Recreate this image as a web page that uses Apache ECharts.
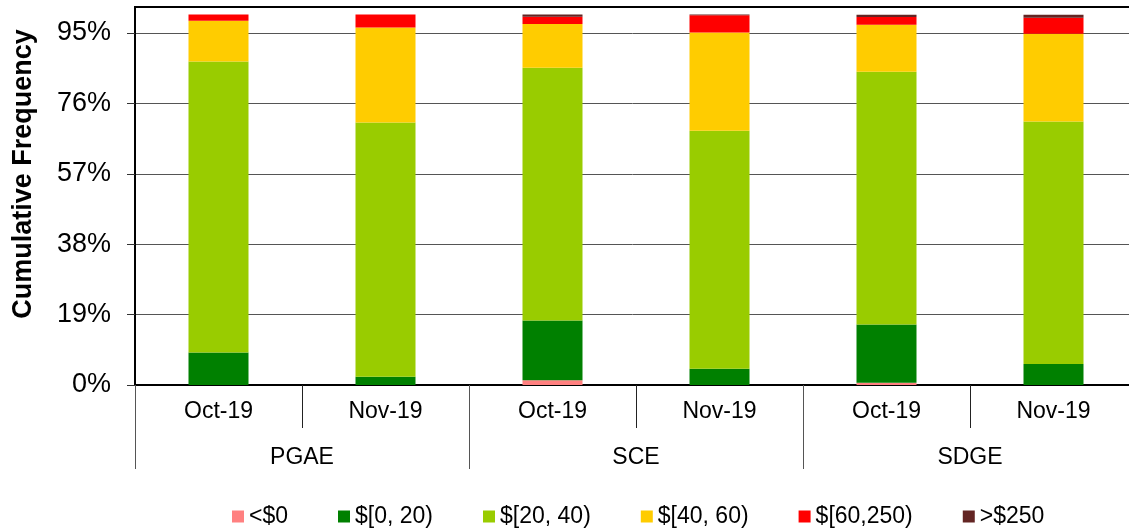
<!DOCTYPE html>
<html>
<head>
<meta charset="utf-8">
<script src="https://cdn.jsdelivr.net/npm/echarts@6/dist/echarts.min.js"></script>
<style>
html,body{margin:0;padding:0;background:#fff;}
#chart{width:1129px;height:531px;}
</style>
</head>
<body>
<div id="chart"></div>
<script>
var categories = ['Oct-19', 'Nov-19', 'Oct-19', 'Nov-19', 'Oct-19', 'Nov-19'];
var groups = ['PGAE', 'SCE', 'SDGE'];
var seriesNames = ['<$0', '$[0, 20)', '$[20, 40)', '$[40, 60)', '$[60,250)', '>$250'];
var seriesColors = ['#FF8080', '#008000', '#99CC00', '#FFCC00', '#FF0000', '#632523'];
var below0 = [0, 0, 1.3, 0, 0.6, 0];
var r0to20 = [8.8, 2.2, 16.1, 4.4, 15.7, 5.7];
var r20to40 = [78.5, 68.6, 68.2, 64.2, 68.2, 65.4];
var r40to60 = [11.0, 25.7, 11.8, 26.5, 12.7, 23.7];
var r60to250 = [1.7, 3.5, 2.0, 4.7, 2.1, 4.3];
var above250 = [0.0, 0.0, 0.6, 0.2, 0.6, 0.8];
var yTicks = [0, 19, 38, 57, 76, 95];

var seriesData = [below0, r0to20, r20to40, r40to60, r60to250, above250];
var FONT = "'Liberation Sans', Arial, sans-serif";

var chart = echarts.init(document.getElementById('chart'), null, {renderer: 'canvas'});
var series = seriesNames.map(function (name, i) {
  return {
    name: name,
    type: 'bar',
    stack: 'total',
    barWidth: 60,
    xAxisIndex: 0,
    itemStyle: {color: seriesColors[i]},
    emphasis: {disabled: true},
    data: seriesData[i]
  };
});

chart.setOption({
  animation: false,
  backgroundColor: '#ffffff',
  grid: {
    left: 135, top: 7, width: 1002, height: 378,
    outerBoundsMode: 'none',
    containLabel: false,
    show: true, borderColor: '#000', borderWidth: 2, backgroundColor: 'transparent'
  },
  legend: {
    data: seriesNames,
    left: 227, top: 500,
    icon: 'rect', itemWidth: 12, itemHeight: 12, itemGap: 50,
    textStyle: {fontFamily: FONT, fontSize: 23, color: '#000'}
  },
  xAxis: [{
    type: 'category',
    data: categories,
    position: 'bottom',
    axisLine: {show: true, lineStyle: {color: '#000', width: 2}},
    axisTick: {show: true, interval: 0, length: 43, lineStyle: {color: '#222', width: 1}},
    axisLabel: {interval: 0, margin: 15, fontFamily: FONT, fontSize: 23, color: '#000'},
    splitLine: {show: false}
  }, {
    type: 'category',
    data: groups,
    position: 'bottom',
    axisLine: {show: false},
    axisTick: {show: true, interval: 0, length: 84, lineStyle: {color: '#555', width: 1}},
    axisLabel: {interval: 0, margin: 61, fontFamily: FONT, fontSize: 23, color: '#000'},
    splitLine: {show: false}
  }],
  yAxis: {
    type: 'value',
    min: 0, max: 102, interval: 19,
    name: 'Cumulative Frequency',
    nameLocation: 'middle',
    nameRotate: 90,
    nameGap: 98,
    nameTextStyle: {fontFamily: FONT, fontSize: 27, fontWeight: 'bold', color: '#000', padding: [0, 0, 0, 44]},
    axisLine: {show: true, lineStyle: {color: '#000', width: 2}},
    axisTick: {show: true, length: 8, customValues: yTicks, lineStyle: {color: '#333'}},
    axisLabel: {customValues: yTicks, margin: 24, fontFamily: FONT, fontSize: 27, color: '#000',
      formatter: function (v) { return v + '%'; }},
    splitLine: {show: true, lineStyle: {color: '#555', width: 1}}
  },
  series: series
});
</script>
</body>
</html>
